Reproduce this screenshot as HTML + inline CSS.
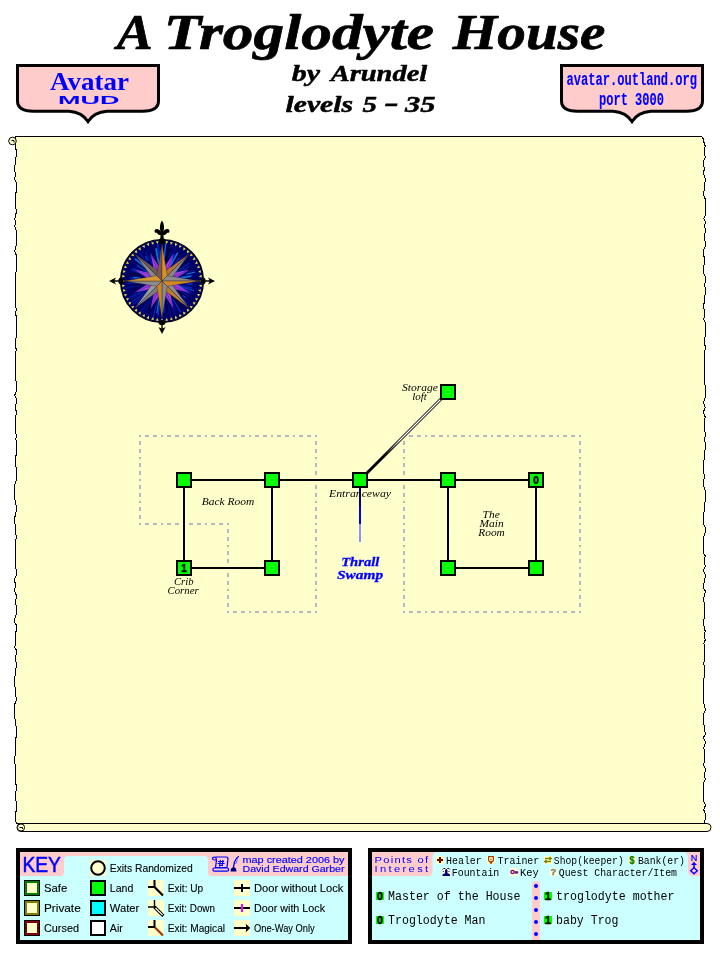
<!DOCTYPE html>
<html><head><meta charset="utf-8">
<style>
html,body{margin:0;padding:0;background:#fff;}
body{width:720px;height:960px;overflow:hidden;position:relative;font-family:"Liberation Sans",sans-serif;}
svg{position:absolute;left:0;top:0;will-change:transform;}
text{font-family:"Liberation Sans",sans-serif;}
.ser{font-family:"Liberation Serif",serif;}
.mono{font-family:"Liberation Mono",monospace;}
.bi{font-family:"Liberation Serif",serif;font-weight:bold;font-style:italic;}
.lbl{font-family:"Liberation Serif",serif;font-style:italic;font-size:10px;fill:#000;}
.k{font-family:"Liberation Sans",sans-serif;font-size:10px;fill:#000;stroke:#000;stroke-width:0.1px;}
.kb{font-family:"Liberation Sans",sans-serif;font-size:9.5px;fill:#00f;stroke:#00f;stroke-width:0.15px;}
.ph{font-family:"Liberation Mono",monospace;font-size:11.5px;fill:#000;}
.pi{font-family:"Liberation Mono",monospace;font-size:12px;fill:#000;}
</style></head><body>
<svg width="720" height="960" viewBox="0 0 720 960">
<g id="title" stroke="#000" stroke-linejoin="round">
<text class="bi" x="116.8" y="49" textLength="36" lengthAdjust="spacingAndGlyphs" font-size="50" stroke-width="0.7">A</text>
<text class="bi" x="163.8" y="49" textLength="270.3" lengthAdjust="spacingAndGlyphs" font-size="50" stroke-width="0.7">Troglodyte</text>
<text class="bi" x="452.8" y="49" textLength="152.6" lengthAdjust="spacingAndGlyphs" font-size="50" stroke-width="0.7">House</text>
<text class="bi" x="291.8" y="81" textLength="28.2" lengthAdjust="spacingAndGlyphs" font-size="24" stroke-width="0.5">by</text>
<text class="bi" x="330.7" y="81" textLength="96.6" lengthAdjust="spacingAndGlyphs" font-size="24" stroke-width="0.5">Arundel</text>
<text class="bi" x="285.5" y="112" textLength="67.5" lengthAdjust="spacingAndGlyphs" font-size="24" stroke-width="0.5">levels</text>
<text class="bi" x="362.5" y="112" textLength="14.5" lengthAdjust="spacingAndGlyphs" font-size="24" stroke-width="0.5">5</text>
<path d="M385.600 103.600 H397.600 L397 106.300 H385 Z" fill="#000" stroke="none"/>
<text class="bi" x="405" y="112" textLength="30.5" lengthAdjust="spacingAndGlyphs" font-size="24" stroke-width="0.5">35</text>
</g>
<g id="badges">
<path d="M17.5 65.5 H158.5 V101 Q158.5 111.2 142.5 111.2 H107 Q94 112 88 121.5 Q82 112 69 111.2 H33.5 Q17.5 111.2 17.5 101 Z" fill="#ffcccc" stroke="#000" stroke-width="3" stroke-linejoin="miter"/>
<path d="M561.5 65.5 H702.5 V101 Q702.5 111.2 686.5 111.2 H651 Q638 112 632 121.5 Q626 112 613 111.2 H577.5 Q561.5 111.2 561.5 101 Z" fill="#ffcccc" stroke="#000" stroke-width="3" stroke-linejoin="miter"/>
<text class="ser" x="50" y="89.5" textLength="79" lengthAdjust="spacingAndGlyphs" font-size="25" font-weight="bold" fill="#00f">Avatar</text>
<text class="" x="58" y="103.6" textLength="61.5" lengthAdjust="spacingAndGlyphs" font-size="11.5" font-weight="bold" fill="#00f">MUD</text>
<text class="mono" x="566.5" y="85.4" textLength="130.5" lengthAdjust="spacingAndGlyphs" font-size="19" font-weight="bold" fill="#00f" stroke="#00f" stroke-width="0.12">avatar.outland.org</text>
<text class="mono" x="599" y="105" textLength="65" lengthAdjust="spacingAndGlyphs" font-size="19" font-weight="bold" fill="#00f" stroke="#00f" stroke-width="0.12">port 3000</text>
</g>
<g id="parch">
<path d="M16 136.5 H700 Q703.5 136.5 703.5 141 L705.2 146.0 L704.5 149.8 L704.5 153.3 L705.2 157.2 L703.4 161.8 L703.4 165.0 L704.5 168.4 L703.8 171.4 L703.8 174.6 L705.6 179.7 L704.5 184.5 L704.5 189.3 L703.4 194.0 L705.2 199.0 L705.2 203.5 L705.2 206.8 L705.2 211.2 L705.6 214.2 L703.8 218.9 L705.6 222.1 L704.5 225.9 L705.6 230.3 L704.5 234.6 L704.5 237.6 L705.2 242.4 L705.6 245.6 L703.4 250.3 L703.8 255.4 L704.5 258.9 L704.5 263.1 L703.4 268.3 L703.4 272.8 L705.6 277.2 L705.2 282.0 L704.5 285.3 L705.6 289.0 L705.6 292.5 L704.5 296.7 L704.5 301.6 L703.4 305.9 L704.5 311.1 L704.5 314.3 L703.8 319.7 L705.6 322.9 L705.6 327.1 L705.6 330.5 L705.6 334.7 L704.5 339.4 L704.5 343.3 L705.6 348.0 L704.5 351.3 L704.5 354.6 L704.5 359.4 L704.5 362.7 L704.5 367.4 L704.5 371.1 L704.5 375.0 L704.5 378.2 L704.5 383.0 L705.6 386.7 L705.6 390.4 L705.2 394.0 L705.2 397.7 L703.4 402.6 L705.2 407.6 L703.4 411.9 L705.2 417.1 L704.5 421.9 L704.5 426.1 L704.5 430.4 L705.6 434.2 L704.5 439.0 L705.2 443.6 L705.6 448.2 L704.5 451.6 L704.5 455.9 L703.8 461.3 L703.8 465.6 L703.8 469.4 L703.8 473.3 L704.5 476.8 L703.8 480.7 L703.4 484.6 L704.5 488.8 L705.6 492.1 L705.6 497.0 L705.6 500.2 L704.5 504.2 L704.5 509.4 L703.4 514.5 L703.4 518.6 L703.4 523.5 L705.2 527.7 L705.2 532.7 L703.8 536.3 L703.8 539.7 L703.8 542.9 L703.8 547.6 L703.4 552.8 L705.2 555.8 L704.5 561.0 L705.2 566.3 L703.4 570.8 L705.2 574.1 L705.2 577.5 L704.5 580.5 L703.8 584.2 L703.8 588.3 L705.6 591.4 L704.5 595.1 L703.4 600.3 L704.5 603.9 L704.5 607.4 L704.5 612.1 L704.5 615.6 L703.8 620.4 L703.8 624.6 L704.5 628.1 L705.2 631.4 L704.5 634.9 L705.2 640.0 L703.8 643.4 L704.5 646.4 L704.5 649.6 L704.5 653.6 L704.5 658.4 L703.8 663.6 L704.5 668.2 L704.5 671.3 L704.5 676.3 L703.4 680.4 L703.4 684.0 L703.4 688.4 L703.4 692.3 L703.4 696.0 L703.8 699.2 L703.8 703.1 L704.5 706.6 L705.6 709.7 L703.4 714.5 L703.4 718.6 L703.4 721.8 L704.5 726.9 L704.5 730.7 L705.6 733.8 L703.4 737.6 L705.6 742.3 L703.8 747.6 L704.5 750.9 L704.5 756.2 L704.5 761.3 L703.4 764.7 L705.6 769.6 L704.5 774.4 L705.2 779.5 L703.8 782.7 L703.4 786.3 L703.8 790.4 L703.8 795.8 L703.4 801.2 L705.6 804.7 L703.8 810.0 L705.6 814.0 L705.6 817.6 L704.5 822.0 L704.5 823.5 L17 823.5 L15.8 822.0 L15.8 822.0 L15.1 818.6 L15.1 813.9 L16.9 809.3 L16.9 804.3 L15.8 800.3 L15.8 797.2 L15.8 791.9 L16.9 787.1 L15.1 781.8 L15.8 776.4 L15.8 772.4 L15.8 769.2 L15.1 764.9 L14.7 760.2 L15.1 754.8 L15.1 751.1 L15.1 747.4 L15.8 742.9 L15.1 739.3 L16.9 735.7 L16.5 731.2 L16.5 727.2 L15.1 723.1 L15.1 720.0 L14.7 715.1 L14.7 711.4 L14.7 708.0 L14.7 704.3 L16.5 699.9 L15.8 696.0 L15.8 690.9 L15.1 687.3 L14.7 684.1 L14.7 680.5 L14.7 677.2 L15.8 673.0 L15.8 668.9 L16.9 665.1 L15.8 661.6 L15.8 656.2 L16.9 651.2 L14.7 647.3 L15.8 641.9 L15.8 638.6 L15.1 633.3 L16.9 629.6 L16.9 626.0 L14.7 622.1 L15.1 617.1 L16.5 613.5 L16.5 608.3 L15.8 604.1 L15.8 600.0 L16.5 595.6 L14.7 591.5 L15.1 587.3 L15.1 583.6 L14.7 578.5 L16.9 574.3 L16.9 571.0 L15.1 567.6 L15.8 562.7 L15.1 558.5 L15.8 553.3 L15.8 549.1 L15.8 544.5 L15.1 541.4 L16.5 537.6 L15.8 534.1 L15.1 529.1 L15.1 525.1 L14.7 520.5 L14.7 517.5 L15.8 514.1 L16.5 508.7 L15.8 503.8 L15.1 500.7 L14.7 496.0 L14.7 492.0 L14.7 487.1 L15.1 483.1 L16.9 478.3 L16.9 475.0 L16.9 471.2 L15.8 466.1 L15.8 461.7 L15.1 457.5 L16.9 453.6 L16.9 448.3 L16.5 443.0 L15.8 438.8 L16.9 435.8 L15.1 432.3 L15.1 427.3 L15.1 422.5 L15.1 418.0 L16.5 413.2 L15.8 409.3 L15.8 405.1 L16.9 400.0 L14.7 395.2 L16.5 391.3 L16.9 387.9 L16.9 384.1 L15.8 380.4 L15.8 375.0 L15.8 371.7 L15.8 366.4 L15.1 361.9 L15.1 357.4 L15.1 353.2 L16.5 350.0 L15.1 346.0 L15.8 342.8 L15.8 338.9 L16.9 334.0 L16.9 329.1 L16.9 326.0 L16.5 320.7 L16.5 316.9 L15.1 312.9 L16.5 309.5 L15.1 304.9 L15.1 301.5 L15.8 296.9 L15.1 293.2 L15.1 288.3 L15.1 284.2 L15.8 279.0 L15.8 275.7 L15.8 272.5 L16.9 268.7 L16.9 264.8 L16.5 261.2 L16.5 255.8 L14.7 251.0 L15.8 246.9 L16.5 243.7 L16.5 239.5 L16.5 235.8 L16.5 231.4 L14.7 226.1 L15.8 222.7 L14.7 219.4 L15.8 214.7 L16.5 211.0 L15.1 206.3 L15.8 202.4 L15.8 198.3 L15.1 194.1 L16.9 191.0 L16.9 187.5 L16.9 184.1 L14.7 179.7 L15.1 176.0 L15.1 172.9 L14.7 168.5 L15.1 164.0 L15.8 160.9 L15.8 157.7 L16.5 154.2 L16.5 150.9 L15.1 147.0 L16 136.5 Z" fill="#ffffcc" stroke="#000" stroke-width="1" stroke-linejoin="round" shape-rendering="crispEdges"/>
<circle cx="12.5" cy="141" r="3.8" fill="#ffffcc" stroke="#000" stroke-width="1"/>
<path d="M11.5 140.5 H14 V142.500" fill="none" stroke="#000" stroke-width="1"/>
<path d="M21 823.5 H707 A4 4 0 0 1 707 831.5 H21 A4 4 0 0 1 21 823.500 Z" fill="#ffffcc" stroke="#000" stroke-width="1"/>
<circle cx="21" cy="827.5" r="3.6" fill="#ffffcc" stroke="#000" stroke-width="1"/>
<path d="M19.5 827.5 H22.5 V829" fill="none" stroke="#000" stroke-width="1"/>
</g>
<g id="compass">
<circle cx="162" cy="281" r="41.5" fill="#00006a" stroke="#000" stroke-width="1.2"/>
<g stroke-linecap="round">
<line x1="175.3" y1="281.1" x2="192.8" y2="281.3" stroke="#000050" stroke-width="1.2"/>
<line x1="173.5" y1="281.9" x2="192.4" y2="283.4" stroke="#0838c0" stroke-width="1.0"/>
<line x1="186.1" y1="284.2" x2="191.6" y2="284.9" stroke="#0028b8" stroke-width="1.2"/>
<line x1="178.7" y1="284.9" x2="191.5" y2="287.9" stroke="#0028b8" stroke-width="1.5"/>
<line x1="171.4" y1="283.9" x2="193.3" y2="290.6" stroke="#0838c0" stroke-width="1.6"/>
<line x1="170.1" y1="284.1" x2="190.9" y2="292.1" stroke="#0028b8" stroke-width="0.9"/>
<line x1="182.9" y1="290.4" x2="189.3" y2="293.3" stroke="#0028b8" stroke-width="1.2"/>
<line x1="176.1" y1="288.8" x2="188.8" y2="295.8" stroke="#0018a8" stroke-width="0.9"/>
<line x1="178.2" y1="291.2" x2="187.5" y2="297.1" stroke="#000040" stroke-width="1.1"/>
<line x1="183.3" y1="295.9" x2="185.3" y2="297.3" stroke="#0838c0" stroke-width="1.6"/>
<line x1="173.6" y1="291.0" x2="186.0" y2="301.7" stroke="#0020a0" stroke-width="1.1"/>
<line x1="178.2" y1="296.3" x2="186.4" y2="304.0" stroke="#0028b8" stroke-width="1.2"/>
<line x1="175.2" y1="296.0" x2="181.5" y2="303.2" stroke="#1070d8" stroke-width="0.9"/>
<line x1="174.8" y1="297.0" x2="182.1" y2="306.0" stroke="#000050" stroke-width="1.5"/>
<line x1="167.0" y1="288.4" x2="181.9" y2="310.3" stroke="#000040" stroke-width="1.2"/>
<line x1="173.3" y1="299.7" x2="180.6" y2="311.8" stroke="#0838c0" stroke-width="1.2"/>
<line x1="173.0" y1="303.4" x2="176.3" y2="310.0" stroke="#001088" stroke-width="1.2"/>
<line x1="167.6" y1="295.3" x2="175.4" y2="315.3" stroke="#001080" stroke-width="1.6"/>
<line x1="164.9" y1="289.5" x2="171.5" y2="308.8" stroke="#000048" stroke-width="0.9"/>
<line x1="165.5" y1="295.3" x2="169.8" y2="313.1" stroke="#001088" stroke-width="1.1"/>
<line x1="164.1" y1="291.9" x2="167.4" y2="309.2" stroke="#000048" stroke-width="1.3"/>
<line x1="164.3" y1="306.3" x2="164.8" y2="310.8" stroke="#001088" stroke-width="1.6"/>
<line x1="163.3" y1="305.4" x2="163.7" y2="312.1" stroke="#0020a0" stroke-width="1.7"/>
<line x1="161.3" y1="305.3" x2="161.0" y2="315.2" stroke="#001088" stroke-width="1.4"/>
<line x1="159.7" y1="300.0" x2="157.9" y2="314.9" stroke="#0838c0" stroke-width="1.6"/>
<line x1="160.1" y1="292.8" x2="156.8" y2="312.6" stroke="#1070d8" stroke-width="1.0"/>
<line x1="159.5" y1="291.4" x2="153.1" y2="317.6" stroke="#0838c0" stroke-width="0.8"/>
<line x1="155.3" y1="301.6" x2="153.2" y2="308.0" stroke="#000040" stroke-width="0.9"/>
<line x1="155.2" y1="297.6" x2="149.0" y2="312.7" stroke="#000050" stroke-width="1.4"/>
<line x1="156.6" y1="292.3" x2="148.2" y2="309.8" stroke="#000040" stroke-width="1.2"/>
<line x1="157.8" y1="288.3" x2="145.0" y2="310.7" stroke="#001080" stroke-width="1.3"/>
<line x1="151.3" y1="296.9" x2="141.8" y2="311.0" stroke="#001088" stroke-width="1.6"/>
<line x1="156.4" y1="288.3" x2="142.7" y2="306.0" stroke="#000040" stroke-width="0.9"/>
<line x1="150.5" y1="293.8" x2="143.0" y2="302.2" stroke="#001088" stroke-width="0.9"/>
<line x1="146.0" y1="296.1" x2="138.0" y2="303.8" stroke="#0018a8" stroke-width="1.6"/>
<line x1="146.7" y1="293.5" x2="134.2" y2="303.6" stroke="#0018a8" stroke-width="1.7"/>
<line x1="144.6" y1="293.1" x2="132.3" y2="301.7" stroke="#0838c0" stroke-width="0.9"/>
<line x1="150.7" y1="287.8" x2="131.1" y2="299.7" stroke="#001088" stroke-width="1.5"/>
<line x1="151.4" y1="286.5" x2="129.8" y2="297.8" stroke="#0020a0" stroke-width="1.6"/>
<line x1="140.1" y1="291.1" x2="134.1" y2="293.9" stroke="#001080" stroke-width="0.9"/>
<line x1="138.9" y1="289.4" x2="133.7" y2="291.3" stroke="#000050" stroke-width="1.4"/>
<line x1="147.9" y1="285.2" x2="133.3" y2="289.6" stroke="#000048" stroke-width="1.0"/>
<line x1="142.1" y1="284.9" x2="125.7" y2="288.1" stroke="#001088" stroke-width="1.6"/>
<line x1="140.4" y1="284.2" x2="133.8" y2="285.2" stroke="#000040" stroke-width="1.8"/>
<line x1="144.7" y1="282.2" x2="127.2" y2="283.5" stroke="#0028b8" stroke-width="1.1"/>
<line x1="138.6" y1="281.0" x2="126.6" y2="280.9" stroke="#000040" stroke-width="1.1"/>
<line x1="143.7" y1="279.4" x2="130.5" y2="278.2" stroke="#0028b8" stroke-width="1.2"/>
<line x1="140.8" y1="278.3" x2="133.7" y2="277.4" stroke="#1070d8" stroke-width="1.1"/>
<line x1="136.9" y1="275.5" x2="128.9" y2="273.8" stroke="#000040" stroke-width="1.5"/>
<line x1="150.5" y1="277.6" x2="132.4" y2="272.2" stroke="#000048" stroke-width="1.2"/>
<line x1="153.7" y1="278.0" x2="131.0" y2="269.9" stroke="#0020a0" stroke-width="1.5"/>
<line x1="154.6" y1="277.9" x2="132.9" y2="268.7" stroke="#0028b8" stroke-width="1.3"/>
<line x1="148.4" y1="273.7" x2="134.6" y2="266.4" stroke="#001088" stroke-width="1.0"/>
<line x1="148.0" y1="272.2" x2="137.2" y2="265.3" stroke="#0838c0" stroke-width="1.5"/>
<line x1="154.6" y1="275.6" x2="138.1" y2="263.7" stroke="#000050" stroke-width="1.2"/>
<line x1="155.7" y1="275.8" x2="135.4" y2="259.1" stroke="#1070d8" stroke-width="1.7"/>
<line x1="148.8" y1="268.2" x2="137.6" y2="257.3" stroke="#1070d8" stroke-width="1.5"/>
<line x1="145.6" y1="263.1" x2="142.8" y2="260.1" stroke="#1070d8" stroke-width="0.8"/>
<line x1="155.2" y1="272.5" x2="138.8" y2="252.0" stroke="#0028b8" stroke-width="0.8"/>
<line x1="148.1" y1="260.3" x2="145.6" y2="256.6" stroke="#0838c0" stroke-width="1.3"/>
<line x1="152.3" y1="263.9" x2="146.1" y2="253.1" stroke="#0020a0" stroke-width="1.0"/>
<line x1="156.0" y1="269.0" x2="149.3" y2="255.5" stroke="#001080" stroke-width="1.5"/>
<line x1="152.9" y1="259.7" x2="148.1" y2="248.4" stroke="#001080" stroke-width="0.9"/>
<line x1="158.6" y1="270.4" x2="150.5" y2="244.8" stroke="#000050" stroke-width="1.0"/>
<line x1="158.4" y1="267.4" x2="152.8" y2="246.7" stroke="#000050" stroke-width="1.5"/>
<line x1="158.7" y1="263.3" x2="156.1" y2="249.2" stroke="#1070d8" stroke-width="1.8"/>
<line x1="159.2" y1="256.4" x2="157.8" y2="244.3" stroke="#0028b8" stroke-width="1.7"/>
<line x1="161.3" y1="268.3" x2="160.4" y2="250.7" stroke="#0838c0" stroke-width="1.7"/>
<line x1="162.6" y1="267.1" x2="163.6" y2="244.2" stroke="#000040" stroke-width="1.4"/>
<line x1="164.3" y1="257.8" x2="165.7" y2="244.0" stroke="#1070d8" stroke-width="1.3"/>
<line x1="165.8" y1="260.8" x2="168.8" y2="245.1" stroke="#000048" stroke-width="1.8"/>
<line x1="167.5" y1="257.7" x2="170.3" y2="246.1" stroke="#000048" stroke-width="1.4"/>
<line x1="169.1" y1="257.7" x2="170.6" y2="252.8" stroke="#0018a8" stroke-width="0.9"/>
<line x1="166.1" y1="270.9" x2="176.3" y2="246.0" stroke="#0018a8" stroke-width="0.8"/>
<line x1="170.3" y1="263.3" x2="174.1" y2="255.3" stroke="#0028b8" stroke-width="1.5"/>
<line x1="171.0" y1="264.7" x2="177.3" y2="253.3" stroke="#1070d8" stroke-width="1.7"/>
<line x1="174.9" y1="261.2" x2="182.2" y2="249.9" stroke="#000048" stroke-width="0.9"/>
<line x1="168.1" y1="273.0" x2="179.2" y2="258.5" stroke="#0028b8" stroke-width="1.6"/>
<line x1="170.9" y1="271.3" x2="181.5" y2="259.6" stroke="#0028b8" stroke-width="1.6"/>
<line x1="171.6" y1="271.8" x2="184.7" y2="259.3" stroke="#000050" stroke-width="0.8"/>
<line x1="171.9" y1="272.5" x2="188.7" y2="258.1" stroke="#000040" stroke-width="1.7"/>
<line x1="177.4" y1="270.1" x2="188.7" y2="262.0" stroke="#000050" stroke-width="1.4"/>
<line x1="174.9" y1="272.6" x2="189.1" y2="263.3" stroke="#0028b8" stroke-width="1.1"/>
<line x1="177.7" y1="272.8" x2="188.7" y2="267.1" stroke="#0028b8" stroke-width="1.4"/>
<line x1="176.4" y1="274.4" x2="192.2" y2="267.2" stroke="#000050" stroke-width="1.6"/>
<line x1="169.6" y1="278.4" x2="193.1" y2="270.3" stroke="#001080" stroke-width="1.5"/>
<line x1="186.5" y1="274.3" x2="194.7" y2="272.1" stroke="#1070d8" stroke-width="1.1"/>
<line x1="174.9" y1="278.5" x2="191.6" y2="275.3" stroke="#0838c0" stroke-width="1.3"/>
<line x1="181.2" y1="278.0" x2="190.5" y2="276.5" stroke="#1070d8" stroke-width="1.6"/>
<line x1="176.4" y1="280.1" x2="193.9" y2="278.9" stroke="#000048" stroke-width="1.7"/>
</g>
<polygon points="202.0,279.6 202.0,282.4 199.2,281.0" fill="#f0e040"/>
<polygon points="201.9,284.4 201.5,287.2 198.9,285.5" fill="#f0e040"/>
<polygon points="201.1,289.2 200.5,291.9 198.1,289.9" fill="#f0e040"/>
<polygon points="199.9,293.9 198.9,296.5 196.8,294.2" fill="#f0e040"/>
<polygon points="198.0,298.3 196.7,300.8 194.9,298.3" fill="#f0e040"/>
<polygon points="195.7,302.6 194.1,304.9 192.6,302.1" fill="#f0e040"/>
<polygon points="192.9,306.5 191.0,308.6 189.8,305.7" fill="#f0e040"/>
<polygon points="189.6,310.0 187.5,311.9 186.7,308.8" fill="#f0e040"/>
<polygon points="185.9,313.1 183.6,314.7 183.1,311.6" fill="#f0e040"/>
<polygon points="181.8,315.7 179.3,317.0 179.3,313.9" fill="#f0e040"/>
<polygon points="177.5,317.9 174.9,318.9 175.2,315.8" fill="#f0e040"/>
<polygon points="172.9,319.5 170.2,320.1 170.9,317.1" fill="#f0e040"/>
<polygon points="168.2,320.5 165.4,320.9 166.5,317.9" fill="#f0e040"/>
<polygon points="163.4,321.0 160.6,321.0 162.0,318.2" fill="#f0e040"/>
<polygon points="158.6,320.9 155.8,320.5 157.5,317.9" fill="#f0e040"/>
<polygon points="153.8,320.1 151.1,319.5 153.1,317.1" fill="#f0e040"/>
<polygon points="149.1,318.9 146.5,317.9 148.8,315.8" fill="#f0e040"/>
<polygon points="144.7,317.0 142.2,315.7 144.7,313.9" fill="#f0e040"/>
<polygon points="140.4,314.7 138.1,313.1 140.9,311.6" fill="#f0e040"/>
<polygon points="136.5,311.9 134.4,310.0 137.3,308.8" fill="#f0e040"/>
<polygon points="133.0,308.6 131.1,306.5 134.2,305.7" fill="#f0e040"/>
<polygon points="129.9,304.9 128.3,302.6 131.4,302.1" fill="#f0e040"/>
<polygon points="127.3,300.8 126.0,298.3 129.1,298.3" fill="#f0e040"/>
<polygon points="125.1,296.5 124.1,293.9 127.2,294.2" fill="#f0e040"/>
<polygon points="123.5,291.9 122.9,289.2 125.9,289.9" fill="#f0e040"/>
<polygon points="122.5,287.2 122.1,284.4 125.1,285.5" fill="#f0e040"/>
<polygon points="122.0,282.4 122.0,279.6 124.8,281.0" fill="#f0e040"/>
<polygon points="122.1,277.6 122.5,274.8 125.1,276.5" fill="#f0e040"/>
<polygon points="122.9,272.8 123.5,270.1 125.9,272.1" fill="#f0e040"/>
<polygon points="124.1,268.1 125.1,265.5 127.2,267.8" fill="#f0e040"/>
<polygon points="126.0,263.7 127.3,261.2 129.1,263.7" fill="#f0e040"/>
<polygon points="128.3,259.4 129.9,257.1 131.4,259.9" fill="#f0e040"/>
<polygon points="131.1,255.5 133.0,253.4 134.2,256.3" fill="#f0e040"/>
<polygon points="134.4,252.0 136.5,250.1 137.3,253.2" fill="#f0e040"/>
<polygon points="138.1,248.9 140.4,247.3 140.9,250.4" fill="#f0e040"/>
<polygon points="142.2,246.3 144.7,245.0 144.7,248.1" fill="#f0e040"/>
<polygon points="146.5,244.1 149.1,243.1 148.8,246.2" fill="#f0e040"/>
<polygon points="151.1,242.5 153.8,241.9 153.1,244.9" fill="#f0e040"/>
<polygon points="155.8,241.5 158.6,241.1 157.5,244.1" fill="#f0e040"/>
<polygon points="160.6,241.0 163.4,241.0 162.0,243.8" fill="#f0e040"/>
<polygon points="165.4,241.1 168.2,241.5 166.5,244.1" fill="#f0e040"/>
<polygon points="170.2,241.9 172.9,242.5 170.9,244.9" fill="#f0e040"/>
<polygon points="174.9,243.1 177.5,244.1 175.2,246.2" fill="#f0e040"/>
<polygon points="179.3,245.0 181.8,246.3 179.3,248.1" fill="#f0e040"/>
<polygon points="183.6,247.3 185.9,248.9 183.1,250.4" fill="#f0e040"/>
<polygon points="187.5,250.1 189.6,252.0 186.7,253.2" fill="#f0e040"/>
<polygon points="191.0,253.4 192.9,255.5 189.8,256.3" fill="#f0e040"/>
<polygon points="194.1,257.1 195.7,259.4 192.6,259.9" fill="#f0e040"/>
<polygon points="196.7,261.2 198.0,263.7 194.9,263.7" fill="#f0e040"/>
<polygon points="198.9,265.5 199.9,268.1 196.8,267.8" fill="#f0e040"/>
<polygon points="200.5,270.1 201.1,272.8 198.1,272.1" fill="#f0e040"/>
<polygon points="201.5,274.8 201.9,277.6 198.9,276.5" fill="#f0e040"/>
<polygon points="162,281 162.0,271.0 173.5,253.3" fill="#a040e0" stroke="#2a1a10" stroke-width="0"/>
<polygon points="162,281 169.1,273.9 173.5,253.3" fill="#9238d0" stroke="#2a1a10" stroke-width="0"/>
<polygon points="162,281 169.1,273.9 189.7,269.5" fill="#a040e0" stroke="#2a1a10" stroke-width="0"/>
<polygon points="162,281 172.0,281.0 189.7,269.5" fill="#9238d0" stroke="#2a1a10" stroke-width="0"/>
<polygon points="162,281 172.0,281.0 189.7,292.5" fill="#a040e0" stroke="#2a1a10" stroke-width="0"/>
<polygon points="162,281 169.1,288.1 189.7,292.5" fill="#9238d0" stroke="#2a1a10" stroke-width="0"/>
<polygon points="162,281 169.1,288.1 173.5,308.7" fill="#a040e0" stroke="#2a1a10" stroke-width="0"/>
<polygon points="162,281 162.0,291.0 173.5,308.7" fill="#9238d0" stroke="#2a1a10" stroke-width="0"/>
<polygon points="162,281 162.0,291.0 150.5,308.7" fill="#a040e0" stroke="#2a1a10" stroke-width="0"/>
<polygon points="162,281 154.9,288.1 150.5,308.7" fill="#9238d0" stroke="#2a1a10" stroke-width="0"/>
<polygon points="162,281 154.9,288.1 134.3,292.5" fill="#a040e0" stroke="#2a1a10" stroke-width="0"/>
<polygon points="162,281 152.0,281.0 134.3,292.5" fill="#9238d0" stroke="#2a1a10" stroke-width="0"/>
<polygon points="162,281 152.0,281.0 134.3,269.5" fill="#a040e0" stroke="#2a1a10" stroke-width="0"/>
<polygon points="162,281 154.9,273.9 134.3,269.5" fill="#9238d0" stroke="#2a1a10" stroke-width="0"/>
<polygon points="162,281 154.9,273.9 150.5,253.3" fill="#a040e0" stroke="#2a1a10" stroke-width="0"/>
<polygon points="162,281 162.0,271.0 150.5,253.3" fill="#9238d0" stroke="#2a1a10" stroke-width="0"/>
<polygon points="162,281 162.0,273.5 189.2,253.8" fill="#b87830" stroke="#2a1a10" stroke-width="0.35"/>
<polygon points="162,281 169.5,281.0 189.2,253.8" fill="#888888" stroke="#2a1a10" stroke-width="0.35"/>
<polygon points="162,281 169.5,281.0 189.2,308.2" fill="#8c8c8c" stroke="#2a1a10" stroke-width="0.35"/>
<polygon points="162,281 162.0,288.5 189.2,308.2" fill="#c08028" stroke="#2a1a10" stroke-width="0.35"/>
<polygon points="162,281 162.0,288.5 134.8,308.2" fill="#7c7c7c" stroke="#2a1a10" stroke-width="0.35"/>
<polygon points="162,281 154.5,281.0 134.8,308.2" fill="#9a9a9a" stroke="#2a1a10" stroke-width="0.35"/>
<polygon points="162,281 154.5,281.0 134.8,253.8" fill="#8a8a8a" stroke="#2a1a10" stroke-width="0.35"/>
<polygon points="162,281 162.0,273.5 134.8,253.8" fill="#6e5a50" stroke="#2a1a10" stroke-width="0.35"/>
<polygon points="162,281 156.7,275.7 162.0,243.5" fill="#7c5a50" stroke="#2a1a10" stroke-width="0.35"/>
<polygon points="162,281 167.3,275.7 162.0,243.5" fill="#d89028" stroke="#2a1a10" stroke-width="0.35"/>
<polygon points="162,281 167.3,275.7 199.5,281.0" fill="#8c8c8c" stroke="#2a1a10" stroke-width="0.35"/>
<polygon points="162,281 167.3,286.3 199.5,281.0" fill="#d08828" stroke="#2a1a10" stroke-width="0.35"/>
<polygon points="162,281 167.3,286.3 162.0,318.5" fill="#8a8a8a" stroke="#2a1a10" stroke-width="0.35"/>
<polygon points="162,281 156.7,286.3 162.0,318.5" fill="#c88428" stroke="#2a1a10" stroke-width="0.35"/>
<polygon points="162,281 156.7,286.3 124.5,281.0" fill="#8c8c8c" stroke="#2a1a10" stroke-width="0.35"/>
<polygon points="162,281 156.7,275.7 124.5,281.0" fill="#d89830" stroke="#2a1a10" stroke-width="0.35"/>
<path d="M162 220.5 C164.5 224 164.5 229 163.200 232 C164 229 169 227.500 169.500 231 C169.500 233 167.500 233.500 167 232.500 C167 234.500 164.500 235 163.500 235 L163.800 242 H160.200 L160.500 235 C159.500 235 157 234.500 157 232.500 C156.500 233.500 154.500 233 154.500 231 C155 227.500 160 229 160.800 232 C159.500 229 159.500 224 162 220.500 Z" fill="#000"/>
<ellipse cx="162" cy="241" rx="3.2" ry="3" fill="#000"/>
<path d="M109 281 L116 277.500 L114.500 280.300 H119 V281.700 H114.500 L116 284.500 Z" fill="#000"/>
<ellipse cx="121" cy="281" rx="2.6" ry="3.4" fill="#000"/>
<path d="M215 281 L208 277.500 L209.500 280.300 H205 V281.700 H209.500 L208 284.500 Z" fill="#000"/>
<ellipse cx="203" cy="281" rx="2.600" ry="3.400" fill="#000"/>
<path d="M162 334 L158.500 327 L161.300 328.500 V324 H162.700 V328.500 L165.500 327 Z" fill="#000"/>
<ellipse cx="162" cy="322.500" rx="3.400" ry="2.600" fill="#000"/>
</g>
<g id="map">
<line x1="139.0" y1="436.0" x2="317.0" y2="436.0" stroke="#b8b8c4" stroke-width="2" fill="none" stroke-dasharray="2 4 4 4 4 4"/>
<line x1="316.0" y1="435.0" x2="316.0" y2="613.0" stroke="#b8b8c4" stroke-width="2" fill="none" stroke-dasharray="2 4 4 4 4 4"/>
<line x1="227.0" y1="612.0" x2="317.0" y2="612.0" stroke="#b8b8c4" stroke-width="2" fill="none" stroke-dasharray="2 4 4 4 4 4"/>
<line x1="228.0" y1="523.0" x2="228.0" y2="613.0" stroke="#b8b8c4" stroke-width="2" fill="none" stroke-dasharray="2 4 4 4 4 4"/>
<line x1="139.0" y1="524.0" x2="229.0" y2="524.0" stroke="#b8b8c4" stroke-width="2" fill="none" stroke-dasharray="2 4 4 4 4 4"/>
<line x1="140.0" y1="435.0" x2="140.0" y2="525.0" stroke="#b8b8c4" stroke-width="2" fill="none" stroke-dasharray="2 4 4 4 4 4"/>
<line x1="403.0" y1="436.0" x2="581.0" y2="436.0" stroke="#b8b8c4" stroke-width="2" fill="none" stroke-dasharray="2 4 4 4 4 4"/>
<line x1="403.0" y1="612.0" x2="581.0" y2="612.0" stroke="#b8b8c4" stroke-width="2" fill="none" stroke-dasharray="2 4 4 4 4 4"/>
<line x1="404.0" y1="435.0" x2="404.0" y2="613.0" stroke="#b8b8c4" stroke-width="2" fill="none" stroke-dasharray="2 4 4 4 4 4"/>
<line x1="580.0" y1="435.0" x2="580.0" y2="613.0" stroke="#b8b8c4" stroke-width="2" fill="none" stroke-dasharray="2 4 4 4 4 4"/>
<g stroke="#000" stroke-width="2">
<line x1="184" y1="480" x2="536" y2="480"/>
<line x1="184" y1="480" x2="184" y2="568"/>
<line x1="272" y1="480" x2="272" y2="568"/>
<line x1="184" y1="568" x2="272" y2="568"/>
<line x1="448" y1="480" x2="448" y2="568"/>
<line x1="536" y1="480" x2="536" y2="568"/>
<line x1="448" y1="568" x2="536" y2="568"/>
</g>
<defs><linearGradient id="ug" gradientUnits="userSpaceOnUse" x1="366" y1="474" x2="442" y2="398"><stop offset="0.25" stop-color="#000"/><stop offset="0.45" stop-color="#fff"/></linearGradient></defs>
<line x1="364" y1="476" x2="444" y2="396" stroke="#000" stroke-width="3"/>
<line x1="366" y1="474" x2="442" y2="398" stroke="url(#ug)" stroke-width="1.3"/>
<rect x="359" y="488" width="2" height="18" fill="#000080"/>
<rect x="359" y="506" width="2" height="18" fill="#0000ff"/>
<rect x="359" y="524" width="2" height="18" fill="#9090ff"/>
<rect x="177" y="473" width="14" height="14" fill="#00ff00" stroke="#000" stroke-width="2"/>
<rect x="265" y="473" width="14" height="14" fill="#00ff00" stroke="#000" stroke-width="2"/>
<rect x="353" y="473" width="14" height="14" fill="#00ff00" stroke="#000" stroke-width="2"/>
<rect x="441" y="473" width="14" height="14" fill="#00ff00" stroke="#000" stroke-width="2"/>
<rect x="529" y="473" width="14" height="14" fill="#00ff00" stroke="#000" stroke-width="2"/>
<rect x="177" y="561" width="14" height="14" fill="#00ff00" stroke="#000" stroke-width="2"/>
<rect x="265" y="561" width="14" height="14" fill="#00ff00" stroke="#000" stroke-width="2"/>
<rect x="441" y="561" width="14" height="14" fill="#00ff00" stroke="#000" stroke-width="2"/>
<rect x="529" y="561" width="14" height="14" fill="#00ff00" stroke="#000" stroke-width="2"/>
<rect x="441" y="385" width="14" height="14" fill="#00ff00" stroke="#000" stroke-width="2"/>
<text x="184" y="571.800" font-size="10" font-weight="bold" text-anchor="middle" fill="#000" stroke="#000" stroke-width="0.5">1</text>
<text x="536" y="483.800" font-size="10" font-weight="bold" text-anchor="middle" fill="#000" stroke="#000" stroke-width="0.5">0</text>
<text class="lbl" x="201.7" y="504.7" textLength="52.5" lengthAdjust="spacingAndGlyphs" >Back Room</text>
<text class="lbl" x="174" y="584.7" textLength="19.5" lengthAdjust="spacingAndGlyphs" >Crib</text>
<text class="lbl" x="167.5" y="593.5" textLength="31.2" lengthAdjust="spacingAndGlyphs" >Corner</text>
<text class="lbl" x="402" y="391.2" textLength="36" lengthAdjust="spacingAndGlyphs" >Storage</text>
<text class="lbl" x="412.3" y="400.2" textLength="14.6" lengthAdjust="spacingAndGlyphs" >loft</text>
<text class="lbl" x="329" y="497.2" textLength="62" lengthAdjust="spacingAndGlyphs" >Entranceway</text>
<text class="lbl" x="482.6" y="517.7" textLength="17.1" lengthAdjust="spacingAndGlyphs" >The</text>
<text class="lbl" x="479.5" y="526.7" textLength="24.1" lengthAdjust="spacingAndGlyphs" >Main</text>
<text class="lbl" x="478.3" y="535.8" textLength="26.5" lengthAdjust="spacingAndGlyphs" >Room</text>
<text class="bi" x="341.2" y="565.7" textLength="38.2" lengthAdjust="spacingAndGlyphs" font-size="13" fill="#00f" stroke="#00f" stroke-width="0.3">Thrall</text>
<text class="bi" x="337" y="578.5" textLength="46.2" lengthAdjust="spacingAndGlyphs" font-size="13" fill="#00f" stroke="#00f" stroke-width="0.3">Swamp</text>
</g>
<g id="key">
<rect x="18" y="850" width="332" height="92" fill="#ccffff" stroke="#000" stroke-width="4"/>
<path d="M20 852 H348 V876 H212 Q208 876 208 872 V860 Q208 856 204 856 H68 Q64 856 64 860 V872 Q64 876 60 876 H20 Z" fill="#ffcccc"/>
<text class="" x="22.4" y="871.5" textLength="38.6" lengthAdjust="spacingAndGlyphs" font-size="22" fill="#00f" stroke="#00f" stroke-width="0.5">KEY</text>
<rect x="90" y="860" width="16" height="16" fill="#ffffcc"/>
<circle cx="98" cy="868" r="6.8" fill="#ffffcc" stroke="#000" stroke-width="2"/>
<text class="k" x="109.8" y="871.5" textLength="83" lengthAdjust="spacingAndGlyphs" >Exits Randomized</text>
<rect x="24" y="880" width="16" height="16" fill="#000"/>
<rect x="25" y="881" width="14" height="14" fill="#008000"/>
<rect x="27" y="883" width="10" height="10" fill="#ffffcc"/>
<text class="k" x="44" y="891.6" textLength="23.3" lengthAdjust="spacingAndGlyphs" >Safe</text>
<rect x="24" y="900" width="16" height="16" fill="#000"/>
<rect x="25" y="901" width="14" height="14" fill="#808000"/>
<rect x="27" y="903" width="10" height="10" fill="#ffffcc"/>
<text class="k" x="44" y="911.6" textLength="36.7" lengthAdjust="spacingAndGlyphs" >Private</text>
<rect x="24" y="920" width="16" height="16" fill="#000"/>
<rect x="25" y="921" width="14" height="14" fill="#800000"/>
<rect x="27" y="923" width="10" height="10" fill="#ffffcc"/>
<text class="k" x="44" y="931.6" textLength="35" lengthAdjust="spacingAndGlyphs" >Cursed</text>
<rect x="91" y="881" width="14" height="14" fill="#00ff00" stroke="#000" stroke-width="2"/>
<text class="k" x="109.8" y="891.6" textLength="23.5" lengthAdjust="spacingAndGlyphs" >Land</text>
<rect x="91" y="901" width="14" height="14" fill="#00ffff" stroke="#000" stroke-width="2"/>
<text class="k" x="109.8" y="911.6" textLength="29.5" lengthAdjust="spacingAndGlyphs" >Water</text>
<rect x="91" y="921" width="14" height="14" fill="#ffffff" stroke="#000" stroke-width="2"/>
<text class="k" x="109.8" y="931.6" textLength="13" lengthAdjust="spacingAndGlyphs" >Air</text>
<rect x="148" y="880" width="16" height="16" fill="#ffffcc"/>
<path d="M154.500 880 V887 M148 887 H155.500" stroke="#000" stroke-width="2" fill="none"/>
<line x1="154.500" y1="887" x2="163" y2="895.5" stroke="#000" stroke-width="2.200"/>
<text class="k" x="167.8" y="891.6" textLength="35.4" lengthAdjust="spacingAndGlyphs" >Exit: Up</text>
<rect x="148" y="900" width="16" height="16" fill="#ffffcc"/>
<path d="M154.500 900 V907 M148 907 H155.500" stroke="#000" stroke-width="1.4" fill="none"/>
<line x1="154.500" y1="907" x2="163.300" y2="915.8" stroke="#000" stroke-width="3.2"/>
<line x1="155.500" y1="908" x2="162.600" y2="915.1" stroke="#fff" stroke-width="1.3"/>
<text class="k" x="167.8" y="911.6" textLength="47.2" lengthAdjust="spacingAndGlyphs" >Exit: Down</text>
<rect x="148" y="920" width="16" height="16" fill="#ffffcc"/>
<path d="M154.500 920 V927 M148 927 H155.500" stroke="#000" stroke-width="2" fill="none"/>
<line x1="155" y1="927.5" x2="163" y2="935.5" stroke="#a03008" stroke-width="2.200"/>
<text class="k" x="167.8" y="931.6" textLength="57.2" lengthAdjust="spacingAndGlyphs" >Exit: Magical</text>
<rect x="234" y="880" width="16" height="16" fill="#ffffcc"/>
<rect x="234" y="887" width="16" height="2" fill="#000"/>
<rect x="241" y="884" width="2" height="8" fill="#000"/>
<text class="k" x="254" y="891.6" textLength="89.4" lengthAdjust="spacingAndGlyphs" >Door without Lock</text>
<rect x="234" y="900" width="16" height="16" fill="#ffffcc"/>
<rect x="234" y="907" width="16" height="2" fill="#000"/>
<rect x="241" y="904" width="2" height="8" fill="#ff00ff"/>
<text class="k" x="254" y="911.6" textLength="71" lengthAdjust="spacingAndGlyphs" >Door with Lock</text>
<rect x="234" y="920" width="16" height="16" fill="#ffffcc"/>
<rect x="234" y="927" width="13" height="2" fill="#000"/>
<path d="M250.300 928 L245.800 923.8 L246.300 928 L245.800 932.2 Z" fill="#000"/>
<text class="k" x="254" y="931.6" textLength="60.7" lengthAdjust="spacingAndGlyphs" >One-Way Only</text>
<text class="kb" x="242.5" y="863" textLength="102" lengthAdjust="spacingAndGlyphs" >map created 2006 by</text>
<text class="kb" x="242.5" y="871.8" textLength="102" lengthAdjust="spacingAndGlyphs" >David Edward Garber</text>
<g stroke="#00f" stroke-width="1.2" fill="none" stroke-linejoin="round">
<path d="M215.500 857 H226.500 Q228 857 228 858.500 L227 867.500 H215.500 L216.500 860 Q216.500 857.500 214.500 857 Q212.500 857 212.500 858.800 Q212.500 860 214.500 860 H216.300"/>
<rect x="213" y="868" width="15.500" height="3.200" rx="1.2"/>
<path d="M218 861.500 H224 M217.500 863.500 H224.500 M219 865.500 H223 M220.500 860 L219.500 866.500 M223 860 L222 866"/>
</g>
<path d="M238.800 856.300 Q236 858 234.500 862 L233.500 867" stroke="#00f" stroke-width="1.3" fill="none"/>
<path d="M238 858 L236.500 860 M237.500 860 L236 862 M236.800 862.200 L235.500 864" stroke="#4060ff" stroke-width="1" fill="none"/>
<path d="M230.500 871.500 Q230.500 867.500 233.500 867 Q236.500 867.500 236.500 871.500 Z" fill="#000080"/>
</g>
<g id="poi">
<rect x="370" y="850" width="332" height="92" fill="#ccffff" stroke="#000" stroke-width="4"/>
<path d="M372 852 H437 Q432.500 852.500 432.500 857 V871 Q432.500 876 427.500 876 H372 Z" fill="#ffcccc"/>
<path d="M700 852 V876 H693 Q688 876 688 871 V857 Q688 852.500 683.500 852 Z" fill="#ffcccc"/>
<text transform="translate(374.6,862.8) scale(1.18,1)" font-size="9.500" fill="#00f" textLength="45.4" lengthAdjust="spacing">Points of</text>
<text transform="translate(374.6,871.8) scale(1.18,1)" font-size="9.500" fill="#00f" textLength="45.4" lengthAdjust="spacing">Interest</text>
<rect x="436" y="856" width="8" height="8" fill="#ffffcc"/>
<path d="M439 857 H441 V859 H443 V861 H441 V863 H439 V861 H437 V859 H439 Z" fill="#800000"/>
<text class="ph" x="446" y="864" textLength="35.8" lengthAdjust="spacingAndGlyphs" >Healer</text>
<rect x="487" y="856" width="8" height="8" fill="#ffffcc"/>
<path d="M488.600 856.600 H493.400 V860.800 L492.500 861.500 H489.500 L488.600 860.800 Z" fill="#ffffcc" stroke="#b04000" stroke-width="1.2"/>
<path d="M489.500 861.500 H492.500 L492 863.500 L491 864 L490 863.500 Z" fill="#b04000"/>
<rect x="490.300" y="858.800" width="1.5" height="1" fill="#b04000"/>
<text class="ph" x="497.5" y="864" textLength="41.8" lengthAdjust="spacingAndGlyphs" >Trainer</text>
<rect x="544" y="856" width="8" height="8" fill="#ffffcc"/>
<path d="M545 858.500 H551 M551 861.500 H545 M549.500 857 L551.200 858.500 L549.500 860 M546.500 860 L544.800 861.500 L546.500 863" stroke="#808000" stroke-width="1.5" fill="none"/>
<text class="ph" x="553.8" y="864" textLength="70" lengthAdjust="spacingAndGlyphs" >Shop(keeper)</text>
<rect x="628" y="856" width="8" height="8" fill="#ffffcc"/>
<text x="632" y="863.500" font-size="10" font-weight="bold" text-anchor="middle" fill="#008000">$</text>
<rect x="631.600" y="856.300" width="0.9" height="7.600" fill="#008000"/>
<text class="ph" x="638" y="864" textLength="47" lengthAdjust="spacingAndGlyphs" >Bank(er)</text>
<rect x="442" y="868" width="8" height="8" fill="#ffffcc"/>
<path d="M442.500 876 V874.500 L444 873.500 H445 V870 H447.500 V873.500 H448.500 L450 874.500 V876 Z" fill="#000080"/>
<path d="M442.500 869.500 L443.500 868.500 H445 L446.200 869.800 L447.500 868.500 H449 L450 869.500 M443.300 871 V872 M449 871 V872" stroke="#000080" stroke-width="1" fill="none"/>
<text class="ph" x="451.8" y="876" textLength="47.5" lengthAdjust="spacingAndGlyphs" >Fountain</text>
<rect x="510" y="868" width="8" height="8" fill="#ffffcc"/>
<circle cx="512.500" cy="872" r="1.600" fill="none" stroke="#800080" stroke-width="1.3"/>
<path d="M514 872 H518 M516 872 V874 M517.500 872 V873.500" stroke="#800080" stroke-width="1.3" fill="none"/>
<text class="ph" x="520" y="876" textLength="18.8" lengthAdjust="spacingAndGlyphs" >Key</text>
<rect x="550" y="868" width="7" height="8" fill="#ffffcc"/>
<text x="553.500" y="875.300" font-size="9.5" font-weight="bold" text-anchor="middle" fill="#808080" stroke="#808080" stroke-width="0.4">?</text>
<text class="ph" x="558.8" y="876" textLength="118.2" lengthAdjust="spacingAndGlyphs" >Quest Character/Item</text>
<text class="" x="690.8" y="860.9" textLength="6.6" lengthAdjust="spacingAndGlyphs" font-size="8.500" fill="#00f" stroke="#00f" stroke-width="0.2">N</text>
<path d="M694 861.800 L697 865 H691 Z" fill="#00f"/>
<rect x="693.300" y="864.500" width="1.5" height="3.500" fill="#00f"/>
<path d="M694 867.800 L697.300 870.800 L694 873.800 L690.700 870.800 Z" fill="#ffcccc" stroke="#00f" stroke-width="1.4"/>
<path d="M532 940 V885 A4 4 0 0 1 540 885 V940 Z" fill="#ffcccc"/>
<circle cx="536" cy="886" r="2" fill="#00f"/>
<circle cx="536" cy="898" r="2" fill="#00f"/>
<circle cx="536" cy="910" r="2" fill="#00f"/>
<circle cx="536" cy="922" r="2" fill="#00f"/>
<circle cx="536" cy="934" r="2" fill="#00f"/>
<rect x="376" y="892" width="8" height="8" fill="#00ff00"/>
<text x="380" y="899.7" font-size="10.500" font-weight="bold" text-anchor="middle" fill="#000" stroke="#000" stroke-width="0.5">0</text>
<text class="pi" x="388" y="900" textLength="132.5" lengthAdjust="spacingAndGlyphs" >Master of the House</text>
<rect x="376" y="916" width="8" height="8" fill="#00ff00"/>
<text x="380" y="923.7" font-size="10.500" font-weight="bold" text-anchor="middle" fill="#000" stroke="#000" stroke-width="0.5">0</text>
<text class="pi" x="388" y="924" textLength="97.5" lengthAdjust="spacingAndGlyphs" >Troglodyte Man</text>
<rect x="544" y="892" width="8" height="8" fill="#00ff00"/>
<text x="548" y="899.7" font-size="10.500" font-weight="bold" text-anchor="middle" fill="#000" stroke="#000" stroke-width="0.5">1</text>
<text class="pi" x="556" y="900" textLength="118.5" lengthAdjust="spacingAndGlyphs" >troglodyte mother</text>
<rect x="544" y="916" width="8" height="8" fill="#00ff00"/>
<text x="548" y="923.7" font-size="10.500" font-weight="bold" text-anchor="middle" fill="#000" stroke="#000" stroke-width="0.5">1</text>
<text class="pi" x="556" y="924" textLength="62.5" lengthAdjust="spacingAndGlyphs" >baby Trog</text>
</g>
</svg>
</body></html>
